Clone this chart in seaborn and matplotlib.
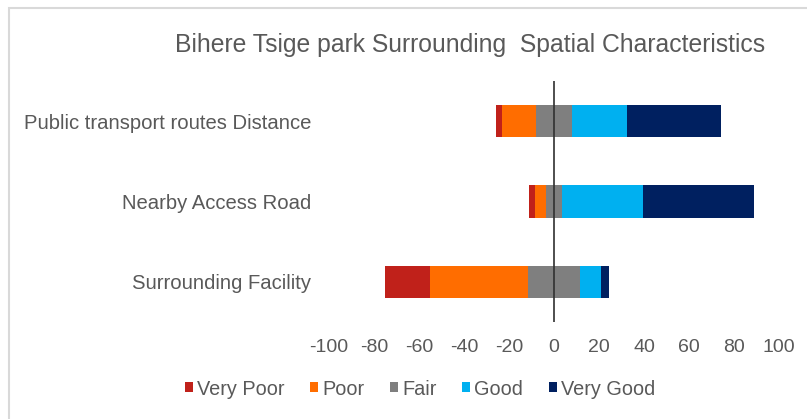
import pandas as pd
import matplotlib.pyplot as plt
import seaborn as sns
from matplotlib.patches import Patch, Rectangle

# Values (percent of responses)
categories = ["Public transport routes Distance", "Nearby Access Road", "Surrounding Facility"]
levels = ["Very Poor", "Poor", "Fair", "Good", "Very Good"]
very_poor = [2.5, 2.6, 20.2]
poor = [15.4, 4.7, 43.5]
fair = [15.6, 7.3, 23.1]
good = [24.6, 35.8, 9.2]
very_good = [41.9, 49.5, 3.9]
colors = ["#C0211A", "#FF6D00", "#7F7F7F", "#00B0F0", "#002060"]
x_ticks = [-100, -80, -60, -40, -20, 0, 20, 40, 60, 80, 100]

df = pd.DataFrame({"category": categories, "Very Poor": very_poor, "Poor": poor,
                   "Fair": fair, "Good": good, "Very Good": very_good})

# Diverging stack: Fair is centred on zero, bars are overlaid from the outer end inwards
half = df["Fair"] / 2
layers = [
    (half + df["Good"] + df["Very Good"], colors[4]),
    (half + df["Good"], colors[3]),
    (-(half + df["Poor"] + df["Very Poor"]), colors[0]),
    (-(half + df["Poor"]), colors[1]),
    (half, colors[2]),
    (-half, colors[2]),
]

sns.set_style("white")
plt.rcParams["font.family"] = ["Liberation Sans", "DejaVu Sans"]
text_color = "#595959"

fig = plt.figure(figsize=(8.07, 4.19), dpi=100)
ax = fig.add_axes([329 / 807, 1 - 322 / 419, 450 / 807, 241 / 419])

for values, col in layers:
    sns.barplot(x=values, y=df["category"], orient="h", color=col,
                width=0.4, saturation=1, ax=ax, linewidth=0)

ax.axvline(0, color="#303030", linewidth=1.2, zorder=5)
ax.set_xlim(-100, 100)
ax.set_xticks(x_ticks)
ax.set_xticklabels([str(t) for t in x_ticks])
ax.set_xlabel("")
ax.set_ylabel("")
for s in ax.spines.values():
    s.set_visible(False)
ax.tick_params(axis="x", length=0, pad=12.5, labelsize=14, labelcolor=text_color)
ax.tick_params(axis="y", length=0, pad=13, labelsize=14.6, labelcolor=text_color)

fig.text(470 / 807, 1 - 45 / 419, "Bihere Tsige park Surrounding  Spatial Characteristics",
         ha="center", va="center", fontsize=17.8, color=text_color)

handles = [Patch(facecolor=c, edgecolor="none", label=l) for l, c in zip(levels, colors)]
fig.legend(handles=handles, loc="center", bbox_to_anchor=(420 / 807, 1 - 389 / 419),
           ncol=5, frameon=False, fontsize=14.3, labelcolor=text_color,
           handlelength=0.4, handleheight=0.4, handletextpad=0.2, columnspacing=1.3)

# light chart-area border (only top and left edge are visible in the crop)
fig.patches.append(Rectangle((9 / 807, -0.1), 1.2, 1 - 8 / 419 + 0.1, transform=fig.transFigure,
                             fill=False, edgecolor="#D9D9D9", linewidth=1.5))

fig.savefig("out.png", dpi=100, facecolor="white")
